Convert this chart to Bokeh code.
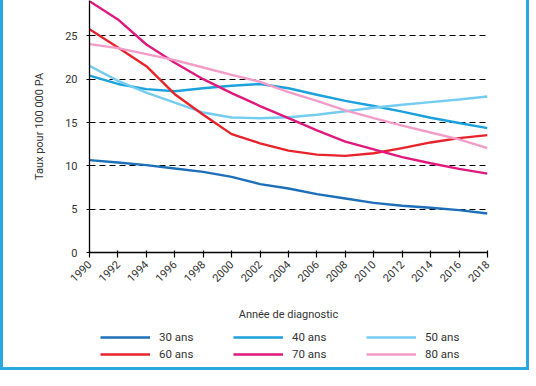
import math
from bokeh.plotting import figure
from bokeh.layouts import column
from bokeh.models import FixedTicker, Legend, LegendItem, Range1d
from bokeh.embed import file_html
from bokeh.resources import INLINE

years = [1990, 1992, 1994, 1996, 1998, 2000, 2002, 2004, 2006, 2008, 2010, 2012, 2014, 2016, 2018]
ans30 = [10.66, 10.38, 10.08, 9.7, 9.31, 8.73, 7.89, 7.39, 6.73, 6.23, 5.73, 5.39, 5.16, 4.89, 4.5]
ans40 = [20.4, 19.45, 18.85, 18.6, 18.95, 19.25, 19.45, 18.95, 18.2, 17.5, 16.9, 16.25, 15.55, 14.95, 14.35]
ans50 = [21.54, 19.8, 18.46, 17.3, 16.15, 15.58, 15.5, 15.6, 15.9, 16.3, 16.7, 17.05, 17.35, 17.65, 18.0]
ans60 = [25.77, 23.65, 21.5, 18.27, 15.9, 13.66, 12.6, 11.75, 11.3, 11.15, 11.45, 12.05, 12.7, 13.2, 13.55]
ans70 = [29.0, 26.9, 24.0, 21.9, 20.0, 18.4, 16.9, 15.5, 14.1, 12.8, 11.9, 11.0, 10.3, 9.65, 9.1]
ans80 = [24.04, 23.58, 22.9, 22.2, 21.35, 20.5, 19.7, 18.5, 17.5, 16.4, 15.5, 14.65, 13.85, 13.05, 12.05]

series_labels = ["30 ans", "40 ans", "50 ans", "60 ans", "70 ans", "80 ans"]
series_values = [ans30, ans40, ans50, ans60, ans70, ans80]
series_colors = ["#1c6fb8", "#1ba1dc", "#74cdf0", "#e8232b", "#e0197d", "#f49cc8"]

y_ticks = [0, 5, 10, 15, 20, 25]

FONT = "Roboto"
TXT = "#333333"
FRAME = "3px solid #2aa8e0"

p = figure(width=529, height=325, output_backend="svg", toolbar_location=None,
           x_range=Range1d(1990, 2018), y_range=Range1d(0, 29.08),
           min_border_left=86, min_border_right=45, min_border_top=0, min_border_bottom=73)
p.outline_line_color = None
p.background_fill_color = "white"
p.border_fill_color = "white"
p.styles = {"border-left": FRAME, "border-right": FRAME}

p.xgrid.grid_line_color = None
p.ygrid.grid_line_color = "black"
p.ygrid.grid_line_dash = "6 4"
p.ygrid.grid_line_width = 1.2
p.ygrid.ticker = FixedTicker(ticks=y_ticks[1:])

p.xaxis.ticker = FixedTicker(ticks=years)
p.xaxis.major_label_orientation = math.pi / 4
p.xaxis.major_tick_in = 2
p.xaxis.major_tick_out = 5
p.xaxis.minor_tick_line_color = None
p.xaxis.axis_label = "Année de diagnostic"
p.xaxis.axis_label_standoff = 19

p.yaxis.ticker = FixedTicker(ticks=y_ticks)
p.yaxis.major_tick_in = 3
p.yaxis.major_tick_out = 3
p.yaxis.minor_tick_line_color = None
p.yaxis.major_label_standoff = 9
p.yaxis.axis_label = "Taux pour 100 000 PA"
p.yaxis.axis_label_standoff = 16

for ax in [p.xaxis[0], p.yaxis[0]]:
    ax.axis_line_color = "black"
    ax.axis_line_width = 1.3
    ax.major_tick_line_color = "black"
    ax.major_tick_line_width = 1.2
    ax.major_label_text_font = FONT
    ax.major_label_text_font_size = "11px"
    ax.major_label_text_color = TXT
    ax.axis_label_text_font = FONT
    ax.axis_label_text_font_size = "11px"
    ax.axis_label_text_font_style = "normal"
    ax.axis_label_text_color = TXT

for lab, vals, col in zip(series_labels, series_values, series_colors):
    p.line(years, vals, line_color=col, line_width=2.4)

# legend panel (separate strip under the chart)
leg = figure(width=529, height=45, output_backend="svg", toolbar_location=None,
             x_range=Range1d(0, 1), y_range=Range1d(0, 1),
             x_axis_type=None, y_axis_type=None,
             min_border_left=0, min_border_right=0, min_border_top=0, min_border_bottom=0)
leg.outline_line_color = None
leg.grid.visible = False
leg.background_fill_color = "white"
leg.border_fill_color = "white"
leg.styles = {"border-left": FRAME, "border-right": FRAME, "border-bottom": FRAME}

items = []
for lab, vals, col in zip(series_labels, series_values, series_colors):
    r = leg.line(years, vals, line_color=col, line_width=2.4)
    items.append(LegendItem(label=lab, renderers=[r]))

legend = Legend(items=items, orientation="horizontal", ncols=3, location=(11, 9),
                glyph_width=50, glyph_height=14, label_standoff=9, spacing=3,
                label_width=71, label_height=14,
                label_text_font=FONT, label_text_font_size="11.5px", label_text_color=TXT,
                border_line_color=None, background_fill_alpha=0, padding=0, margin=0)
leg.add_layout(legend, "center")

layout = column(p, leg, spacing=0)
open("out.html", "w").write(file_html(layout, INLINE))
